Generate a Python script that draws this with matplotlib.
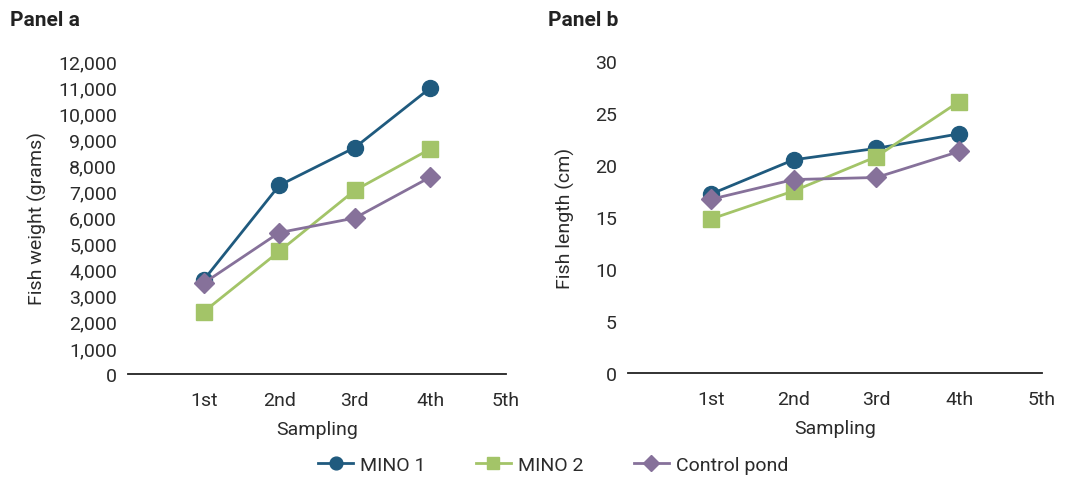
import numpy as np
import matplotlib.pyplot as plt
from matplotlib.ticker import FuncFormatter

plt.rcParams['font.family'] = ['Roboto', 'DejaVu Sans']

samplings = ["1st", "2nd", "3rd", "4th", "5th"]
series_names = ["MINO 1", "MINO 2", "Control pond"]

# panel a: fish weight (grams), 4 samplings
weight_mino1 = [3600, 7230, 8680, 10970]
weight_mino2 = [2380, 4700, 7040, 8630]
weight_control = [3480, 5420, 5980, 7550]

# panel b: fish length (cm)
length_mino1 = [17.2, 20.5, 21.6, 23.0]
length_mino2 = [14.8, 17.5, 20.8, 26.1]
length_control = [16.7, 18.6, 18.8, 21.3]

colors = ["#1f5a7e", "#a3c468", "#86719a"]
markers = ["o", "s", "D"]
msizes = [11.5, 11, 10]
txt = "#2b2b2b"

fig = plt.figure(figsize=(10.65, 4.89), dpi=100)
ax_a = fig.add_axes([128/1065, 1-375/489, 378/1065, 313/489])
ax_b = fig.add_axes([628/1065, 1-374/489, 414/1065, 312/489])

x = np.arange(1, 5)


def style(ax, ymax, step, ylabel, fmt):
    for s in ["top", "right", "left"]:
        ax.spines[s].set_visible(False)
    ax.spines["bottom"].set_color("#222222")
    ax.spines["bottom"].set_linewidth(1.3)
    ax.set_xlim(0, 5)
    ax.set_ylim(0, ymax)
    ax.set_yticks(np.arange(0, ymax + step, step))
    ax.yaxis.set_major_formatter(FuncFormatter(fmt))
    ax.set_xticks(np.arange(1, 6))
    ax.set_xticklabels(samplings)
    ax.tick_params(length=0, labelsize=14, colors=txt, pad=8)
    ax.tick_params(axis="x", pad=12)
    ax.set_xlabel("Sampling", fontsize=14, color=txt, labelpad=8)
    ax.set_ylabel(ylabel, fontsize=14, color=txt)
    ax.patch.set_alpha(0)


lines = []
for vals, c, m, ms, name in zip([weight_mino1, weight_mino2, weight_control],
                                colors, markers, msizes, series_names):
    l, = ax_a.plot(x, vals, color=c, marker=m, markersize=ms,
                   linewidth=2, label=name, clip_on=False)
    lines.append(l)
style(ax_a, 12000, 1000, "Fish weight (grams)", lambda v, p: f"{int(v):,}")
ax_a.yaxis.labelpad = 8

for vals, c, m, ms in zip([length_mino1, length_mino2, length_control], colors, markers, msizes):
    ax_b.plot(x, vals, color=c, marker=m, markersize=ms,
              linewidth=2, clip_on=False)
style(ax_b, 30, 5, "Fish length (cm)", lambda v, p: f"{int(v)}")
ax_b.yaxis.labelpad = 14

fig.text(10/1065, 1-20/489, "Panel a", fontsize=15, fontweight="bold", color="#222222", va="center")
fig.text(548/1065, 1-20/489, "Panel b", fontsize=15, fontweight="bold", color="#222222", va="center")

fig.legend(handles=lines, loc="center", bbox_to_anchor=(553/1065, 1-466/489), ncol=3,
           frameon=False, fontsize=14, handlelength=1.8, columnspacing=2.6, handletextpad=0.35,
           markerscale=0.8)
for t in fig.legends[0].get_texts():
    t.set_color(txt)

fig.savefig("out.png", dpi=100)
